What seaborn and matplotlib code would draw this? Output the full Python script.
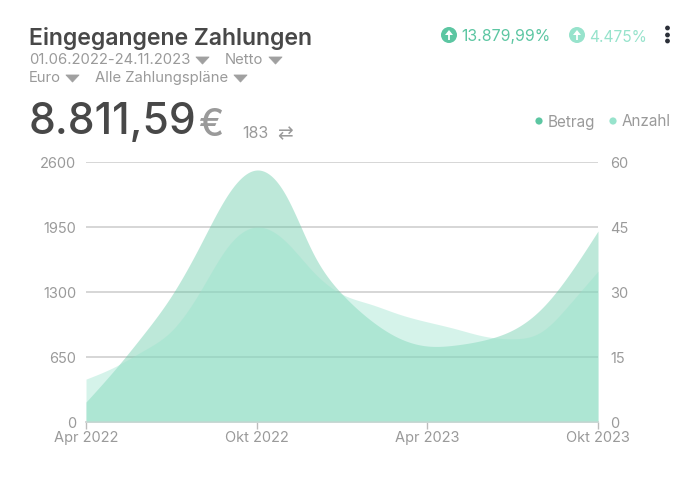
import numpy as np
import pandas as pd
import matplotlib
matplotlib.use("Agg")
import matplotlib.pyplot as plt
from matplotlib.patches import Circle, Polygon, FancyArrow
import seaborn as sns

months = np.arange(19)
betrag = [200, 520, 870, 1260, 1760, 2280, 2520, 2280, 1680, 1280, 1020, 840, 760, 770, 820, 920, 1130, 1480, 1910]
anzahl = [9.9, 12.7, 16.4, 21, 30, 40.6, 45, 41.8, 34.6, 29.5, 27.2, 24.9, 23.1, 21.5, 19.8, 19.2, 20.8, 27.2, 34.8]
x_ticks = [0, 6, 12, 18]
x_labels = ["Apr 2022", "Okt 2022", "Apr 2023", "Okt 2023"]
left_ticks = [0, 650, 1300, 1950, 2600]
right_ticks = [0, 15, 30, 45, 60]
title = "Eingegangene Zahlungen"
total = "8.811,59"
count = "183"
pct_betrag = "13.879,99%"
pct_anzahl = "4.475%"

DARK = "#5cc6a2"
LIGHT = "#97e3cc"
GREY = "#9a9a9a"
TXT = "#484848"

sns.set_theme(style="white")
plt.rcParams["font.family"] = ["Inter", "DejaVu Sans"]


def smooth(x, y, n=16):
    """Natural cubic spline through the monthly values, for the rounded area edge."""
    x = np.asarray(x, float)
    y = np.asarray(y, float)
    m = len(y)
    A = np.zeros((m, m))
    r = np.zeros(m)
    A[0, 0] = A[-1, -1] = 1
    for i in range(1, m - 1):
        A[i, i - 1:i + 2] = [1, 4, 1]
        r[i] = 6 * (y[i - 1] - 2 * y[i] + y[i + 1])
    k = np.linalg.solve(A, r)
    xs = np.linspace(x[0], x[-1], (m - 1) * n + 1)
    idx = np.minimum(xs.astype(int), m - 2)
    t = xs - idx
    ys = (1 - t) * y[idx] + t * y[idx + 1] + ((1 - t) ** 3 - (1 - t)) * k[idx] / 6 + (t**3 - t) * k[idx + 1] / 6
    return xs, ys


W, H = 700, 481
fig = plt.figure(figsize=(W / 100, H / 100), dpi=100, facecolor="white")
ax = fig.add_axes([86 / W, 1 - 423 / H, 512 / W, 260 / H])
ax2 = ax.twinx()

ax.set_zorder(1)
ax2.set_zorder(2)
ax.patch.set_visible(False)
ax2.patch.set_visible(False)

xb, yb = smooth(months, betrag)
xa, ya = smooth(months, anzahl)
df_b = pd.DataFrame({"m": xb, "v": yb})
df_a = pd.DataFrame({"m": xa, "v": ya})

ax.set_yticks(left_ticks)
ax.yaxis.grid(True, color="#d6d6d6", lw=1.4, zorder=0)
ax.set_axisbelow(True)
ax.fill_between(xb, 0, yb, color=DARK, alpha=0.40, lw=0, zorder=2)
sns.lineplot(data=df_b, x="m", y="v", ax=ax, lw=0, legend=False, errorbar=None)
ax2.fill_between(xa, 0, ya, color=LIGHT, alpha=0.40, lw=0, zorder=2)
sns.lineplot(data=df_a, x="m", y="v", ax=ax2, lw=0, legend=False, errorbar=None)

ax.set_xlim(0, 18)
ax.set_ylim(0, 2600)
ax2.set_ylim(0, 60)
ax.set_xticks(x_ticks)
ax.set_xticklabels(x_labels)
ax.set_yticks(left_ticks)
ax2.set_yticks(right_ticks)
ax.set_xlabel("")
ax.set_ylabel("")
ax2.set_ylabel("")
ax2.grid(False)
for a in (ax, ax2):
    for s in a.spines.values():
        s.set_visible(False)
ax.spines["bottom"].set_visible(True)
ax.spines["bottom"].set_color("#d6d6d6")
ax.spines["bottom"].set_linewidth(1.4)
ax.tick_params(axis="x", bottom=True, length=5, width=1, color="#bdbdbd", labelcolor=GREY, labelsize=10.5, pad=1)
ax.tick_params(axis="y", length=0, labelcolor=GREY, labelsize=10.5, pad=7)
ax2.tick_params(axis="y", length=0, labelcolor=GREY, labelsize=10.5, pad=9)

# header overlay in pixel coordinates
ov = fig.add_axes([0, 0, 1, 1], zorder=5)
ov.set_xlim(0, W)
ov.set_ylim(H, 0)
ov.axis("off")


def caret(x, y, w=13, h=7):
    ov.add_patch(Polygon([(x, y), (x + w, y), (x + w / 2, y + h)], closed=True, fc="#a0a0a0", ec="#a0a0a0", lw=0.6, joinstyle="round"))


def up_icon(x, y, col):
    ov.add_patch(Circle((x, y), 8, fc=col, ec="none"))
    ov.add_patch(FancyArrow(x, y + 5, 0, -10, width=1.8, head_width=8, head_length=5,
                            length_includes_head=True, fc="white", ec="none"))


ov.text(29, 39, title, fontsize=16.6, color=TXT, fontweight="semibold", va="center", ha="left")
ov.text(29, 60, "01.06.2022-24.11.2023", fontsize=10.7, color=GREY, va="center")
caret(196, 58)
ov.text(225, 60, "Netto", fontsize=10.7, color=GREY, va="center")
caret(269, 58)
ov.text(29, 78, "Euro", fontsize=10.7, color=GREY, va="center")
caret(66, 76)
ov.text(95, 78, "Alle Zahlungspläne", fontsize=10.7, color=GREY, va="center")
caret(234, 76)
ov.text(29, 122, total, fontsize=30.6, color=TXT, fontweight="medium", va="center")
ov.text(199.5, 126, "€", fontsize=27, color=GREY, fontweight="medium", va="center")
ov.text(242, 134, count, fontsize=11.5, color=GREY, va="center")
ov.text(277, 134, "⇄", fontsize=13.5, color=GREY, va="center", family=["DejaVu Sans"])

up_icon(449, 36, DARK)
ov.text(461, 37, pct_betrag, fontsize=11.4, color=DARK, va="center")
up_icon(577, 36, LIGHT)
ov.text(589, 37, pct_anzahl, fontsize=11.2, color=LIGHT, va="center")
for yy in (29, 36, 42):
    ov.add_patch(Circle((667.5, yy), 2.4, fc="#2b2f38", ec="none"))

ov.add_patch(Circle((539, 122), 3.6, fc=DARK, ec="none"))
ov.text(548, 122, "Betrag", fontsize=11, color=GREY, va="center")
ov.add_patch(Circle((613, 122), 3.6, fc=LIGHT, ec="none"))
ov.text(622, 122, "Anzahl", fontsize=11, color=GREY, va="center")

fig.savefig("out.png", dpi=100, facecolor="white")
